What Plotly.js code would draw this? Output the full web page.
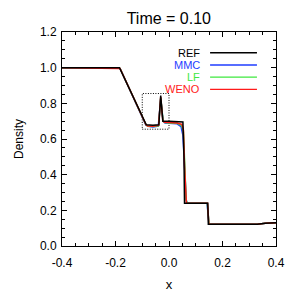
<!DOCTYPE html>
<html>
<head>
<meta charset="utf-8">
<script src="https://cdn.plot.ly/plotly-3.0.1.min.js"></script>
<style>html,body{margin:0;padding:0;background:#fff;}#chart{width:307px;height:307px;}</style>
</head>
<body>
<div id="chart"></div>
<script>
// ---- data ----
const seriesNames = ["REF", "MMC", "LF", "WENO"];
const seriesColors = ["#000000", "#1f3dff", "#3ee83e", "#ff1a1a"];

const refX  = [-0.4, -0.185, -0.135, -0.085, -0.06, -0.038, -0.031, -0.023, 0.0, 0.03, 0.052, 0.056, 0.058, 0.145, 0.147, 0.33, 0.36, 0.4];
const refY  = [1.0, 1.0, 0.84, 0.68, 0.677, 0.68, 0.843, 0.70, 0.70, 0.698, 0.695, 0.5, 0.24, 0.24, 0.122, 0.122, 0.128, 0.13];

const mmcX  = [-0.4, -0.19, -0.182, -0.135, -0.087, -0.078, -0.06, -0.04, -0.031, -0.022, -0.015, 0.0, 0.03, 0.045, 0.052, 0.058, 0.064, 0.068, 0.142, 0.146, 0.15, 0.33, 0.36, 0.4];
const mmcY  = [1.0, 1.0, 0.993, 0.84, 0.68, 0.671, 0.668, 0.672, 0.825, 0.70, 0.69, 0.688, 0.685, 0.67, 0.62, 0.45, 0.26, 0.24, 0.24, 0.18, 0.122, 0.122, 0.128, 0.13];

const lfX   = [-0.4, -0.188, -0.183, -0.135, -0.086, -0.079, -0.06, -0.039, -0.031, -0.022, -0.015, 0.0, 0.03, 0.047, 0.054, 0.059, 0.064, 0.068, 0.143, 0.147, 0.15, 0.33, 0.36, 0.4];
const lfY   = [1.0, 1.0, 0.995, 0.84, 0.68, 0.672, 0.67, 0.674, 0.83, 0.70, 0.692, 0.69, 0.688, 0.677, 0.64, 0.45, 0.26, 0.24, 0.24, 0.17, 0.122, 0.122, 0.128, 0.13];

const wenoX = [-0.4, -0.187, -0.183, -0.135, -0.086, -0.08, -0.06, -0.039, -0.031, -0.023, -0.016, 0.0, 0.03, 0.048, 0.054, 0.058, 0.062, 0.065, 0.144, 0.146, 0.149, 0.33, 0.36, 0.4];
const wenoY = [1.0, 1.0, 0.996, 0.84, 0.68, 0.673, 0.671, 0.676, 0.835, 0.70, 0.694, 0.692, 0.69, 0.682, 0.65, 0.45, 0.26, 0.24, 0.24, 0.17, 0.122, 0.122, 0.128, 0.13];

const zoomBoxX = [-0.1, 0.0, 0.0, -0.1, -0.1];
const zoomBoxY = [0.655, 0.655, 0.855, 0.855, 0.655];

const xTickVals = [-0.4, -0.2, 0.0, 0.2, 0.4];
const xTickText = ["-0.4", "-0.2", "0.0", "0.2", "0.4"];
const yTickVals = [0.0, 0.2, 0.4, 0.6, 0.8, 1.0, 1.2];
const yTickText = ["0.0", "0.2", "0.4", "0.6", "0.8", "1.0", "1.2"];

// ---- traces ----
const xs = [refX, mmcX, lfX, wenoX];
const ys = [refY, mmcY, lfY, wenoY];
const drawOrder = [1, 2, 3, 0];
const traces = [{
  x: zoomBoxX, y: zoomBoxY, mode: "lines", showlegend: false, hoverinfo: "skip",
  line: {color: "#000", width: 1, dash: "1px,1.5px"}
}];
drawOrder.forEach(i => {
  traces.push({
    x: xs[i], y: ys[i], mode: "lines", name: seriesNames[i], showlegend: false,
    line: {color: seriesColors[i], width: 1.5}
  });
});

// ---- hand-drawn legend (text left of line sample) ----
const legTop = 0.903, legStep = 0.057;
const annotations = [], shapes = [];
seriesNames.forEach((n, i) => {
  const yy = legTop - i * legStep;
  annotations.push({
    xref: "paper", yref: "paper", x: 0.655, y: yy, xanchor: "right", yanchor: "middle",
    text: n, showarrow: false, font: {family: "Liberation Sans, Arial, sans-serif", size: 11, color: seriesColors[i]}
  });
  shapes.push({
    type: "line", xref: "paper", yref: "paper", x0: 0.692, x1: 0.911, y0: yy, y1: yy,
    line: {color: seriesColors[i], width: 1.4}
  });
});

const axisCommon = {
  showline: true, linecolor: "#000", linewidth: 1, mirror: "ticks",
  ticks: "inside", ticklen: 5, tickwidth: 1, tickcolor: "#000",
  showgrid: false, zeroline: false,
  tickfont: {family: "Liberation Sans, Arial, sans-serif", size: 12, color: "#000"}
};

const layout = {
  width: 307, height: 307,
  margin: {l: 62, r: 31, t: 32, b: 61},
  paper_bgcolor: "#fff", plot_bgcolor: "#fff",
  title: {text: "Time = 0.10", x: 0.55, xanchor: "center", y: 0.94, yanchor: "middle",
          font: {family: "Liberation Sans, Arial, sans-serif", size: 16, color: "#000"}},
  xaxis: Object.assign({}, axisCommon, {
    range: [-0.4, 0.4], tickvals: xTickVals, ticktext: xTickText, ticklabelstandoff: 6,
    minor: {dtick: 0.05, ticks: "inside", ticklen: 3, tickcolor: "#000", showgrid: false},
    title: {text: "x", standoff: 10, font: {family: "Liberation Sans, Arial, sans-serif", size: 13, color: "#000"}}
  }),
  yaxis: Object.assign({}, axisCommon, {
    range: [0, 1.2], tickvals: yTickVals, ticktext: yTickText, ticklabelstandoff: 2,
    minor: {dtick: 0.05, ticks: "inside", ticklen: 3, tickcolor: "#000", showgrid: false},
    title: {text: "Density", standoff: 13, font: {family: "Liberation Sans, Arial, sans-serif", size: 12, color: "#000"}}
  }),
  annotations: annotations, shapes: shapes,
  showlegend: false
};

Plotly.newPlot("chart", traces, layout, {displayModeBar: false, staticPlot: true});
</script>
</body>
</html>
